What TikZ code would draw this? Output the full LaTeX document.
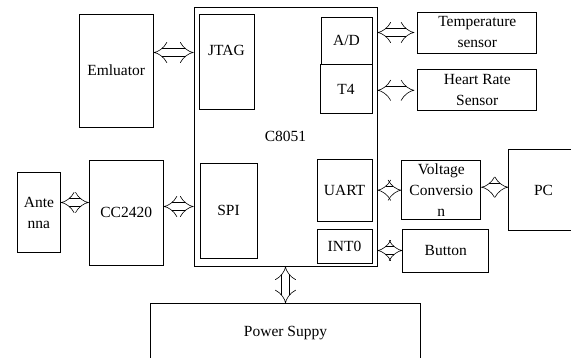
\documentclass[tikz,border=0pt]{standalone}
\usepackage{fontspec}
\setmainfont{Liberation Serif}
\usepackage{tikz}
\usetikzlibrary{arrows.meta,positioning}

\begin{document}
\begin{tikzpicture}[
  x=1pt, y=-1pt,
  font=\fontsize{15.5}{21}\selectfont,
  block/.style={draw, line width=0.8pt, align=center, inner sep=0pt},
  link/.style={double, double distance=7pt, line width=0.6pt, {Implies[length=3pt, width=20pt]}-{Implies[length=3pt, width=20pt]}}
]
  \useasboundingbox (0,0) rectangle (571,358);

  % microcontroller and its ports
  \node[block, minimum width=183pt, minimum height=259pt] (mcu) at (285.5,136.5) {C8051};
  \node[block, minimum width=55pt, minimum height=95pt, text depth=23pt, below right=7pt and 5pt of mcu.north west] (jtag) {JTAG};
  \node[block, minimum width=51pt, minimum height=47pt, below left=10pt and 5pt of mcu.north east] (ad) {A/D};
  \node[block, minimum width=52pt, minimum height=49pt, below=0pt of ad.south east, anchor=north east] (t4) {T4};
  \node[block, minimum width=57pt, minimum height=95pt, above right=8pt and 6pt of mcu.south west] (spi) {SPI};
  \node[block, minimum width=55pt, minimum height=34pt, above left=3pt and 5pt of mcu.south east] (int0) {INT0};
  \node[block, minimum width=55pt, minimum height=62pt, above=7pt of int0] (uart) {UART};

  % peripherals
  \node[block, minimum width=74pt, minimum height=113pt, left=45pt of jtag.north west, anchor=north east] (emu) {Emluator};
  \node[block, minimum width=119pt, minimum height=41pt, below right=5pt and 40pt of mcu.north east] (temp) {Temperature\\sensor};
  \node[block, minimum width=119pt, minimum height=41pt, below=16pt of temp] (heart) {Heart Rate\\Sensor};
  \node[block, minimum width=79pt, minimum height=59pt, right=29pt of uart] (volt) {};
  \node[align=center, inner sep=0pt] (volttext) at (volt) {Voltage\\Conversio\\n};
  \node[block, minimum width=70pt, minimum height=81pt, right=27pt of volt] (pc) {PC};
  \node[block, minimum width=86pt, minimum height=43pt, right=30pt of int0.north east, anchor=north west] (button) {Button};
  \node[block, minimum width=74pt, minimum height=105pt, left=36pt of spi, yshift=-2pt] (cc) {CC2420};
  \node[block, minimum width=43pt, minimum height=80pt, left=28pt of cc] (ant) {Ante\\nna};
  \node[block, minimum width=270pt, minimum height=58pt, below=37pt of mcu] (power) {Power Suppy};

  \draw[link] ([yshift=18pt]emu.east) -- ([yshift=18pt]emu.east -| mcu.west);
  \draw[link] (mcu.east |- temp.west) -- ([xshift=-3pt]temp.west);
  \draw[link] (mcu.east |- heart.west) -- ([xshift=-3pt]heart.west);
  \draw[link] ([yshift=10pt]ant.east) -- ([yshift=10pt]ant.east -| cc.west);
  \draw[link] ([yshift=6pt]cc.east) -- ([yshift=6pt]cc.east -| mcu.west);
  \draw[link] (mcu.east |- volt.west) -- (volt.west);
  \draw[link] ([yshift=3pt]volt.east) -- ([yshift=3pt]volt.east -| pc.west);
  \draw[link] (mcu.east |- button.west) -- (button.west);
  \draw[link] (mcu.south) -- (power.north);
\end{tikzpicture}
\end{document}
